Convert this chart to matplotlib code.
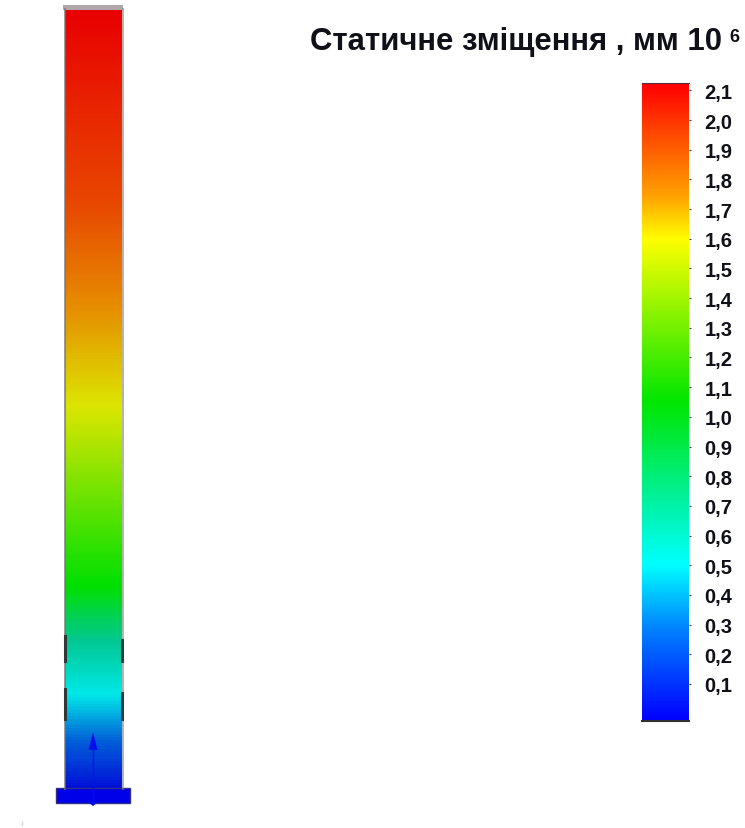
import matplotlib
matplotlib.use("Agg")
import matplotlib.pyplot as plt
import numpy as np
from matplotlib.colors import LinearSegmentedColormap
from matplotlib.patches import Rectangle

W, H = 745, 829

# legend values
tick_values = [2.1, 2.0, 1.9, 1.8, 1.7, 1.6, 1.5, 1.4, 1.3, 1.2, 1.1,
               1.0, 0.9, 0.8, 0.7, 0.6, 0.5, 0.4, 0.3, 0.2, 0.1]
tick_labels = ["2,1", "2,0", "1,9", "1,8", "1,7", "1,6", "1,5", "1,4", "1,3", "1,2", "1,1",
               "1,0", "0,9", "0,8", "0,7", "0,6", "0,5", "0,4", "0,3", "0,2", "0,1"]
scale_min = -0.025
scale_max = 2.125

# colour scale, value -> colour
scale_stops = [-0.025, 0.28, 0.5, 0.75, 1.05, 1.6, 1.75, 2.125]
scale_colors = ["#0000ff", "#0080ff", "#00ffff", "#00f090", "#00e600", "#ffff00", "#ffa000", "#ff0000"]

# displacement along the column, from the fixed foot to the top
column_stops = [0.0, 0.06, 0.12, 0.19, 0.26, 0.49, 0.62, 0.75, 1.0]
column_colors = ["#0010d8", "#0060d8", "#00e8e8", "#00c890", "#00e000", "#dce600",
                 "#e68c00", "#e84800", "#e80000"]


def px_axes(fig, x0, y0, x1, y1):
    return fig.add_axes([x0 / W, 1 - y1 / H, (x1 - x0) / W, (y1 - y0) / H])


fig = plt.figure(figsize=(W / 100, H / 100), dpi=100)
plt.rcParams["font.family"] = ["Liberation Sans", "DejaVu Sans"]

# column
col_cmap = LinearSegmentedColormap.from_list("col", list(zip(column_stops, column_colors)))
col_ax = px_axes(fig, 65, 10, 122, 790)
col_ax.imshow(np.linspace(1, 0, 256).reshape(-1, 1), cmap=col_cmap, aspect="auto")
col_ax.axis("off")

# overlay in pixel coordinates
ax = px_axes(fig, 0, 0, W, H)
ax.set_xlim(0, W)
ax.set_ylim(H, 0)
ax.axis("off")
ax.patch.set_alpha(0)

ax.add_patch(Rectangle((63, 6), 60, 5, color="#b0a8a8", lw=0))
ax.plot([64.5, 64.5], [10, 790], color="#707070", lw=1.4, alpha=0.7)
ax.plot([122.5, 122.5], [10, 790], color="#808080", lw=1.4, alpha=0.6)

# dark marks where the sections join
for y0, y1 in [(637, 662), (690, 720)]:
    ax.plot([64.5, 64.5], [y0, y1], color="#303838", lw=2.2)
    ax.plot([121.5, 121.5], [y0 + 4, y1], color="#303838", lw=2.2)

# foot and load arrow
ax.add_patch(Rectangle((56, 789), 74, 15, facecolor="#0000e8", edgecolor="#30308a", lw=1))
ax.plot([93, 93], [745, 800], color="#0010f0", lw=1)
ax.fill([88.5, 93, 97.5], [751, 733, 751], color="#0010e8", lw=0)
ax.fill([88, 93, 98], [803, 807, 803], color="#0010e8", lw=0)
ax.plot([22, 22], [822, 826], color="#d8d8d8", lw=1)

# title
ax.text(310, 50, "Статичне зміщення , мм 10", fontsize=22.4, fontweight="bold",
        va="baseline", ha="left", color="#101018")
ax.text(729, 42, "6", fontsize=13, fontweight="bold", va="baseline", ha="left", color="#101018")

# colour scale
norm_stops = [(v - scale_min) / (scale_max - scale_min) for v in scale_stops]
cmap = LinearSegmentedColormap.from_list("scale", list(zip(norm_stops, scale_colors)))
cb = px_axes(fig, 642, 84, 689, 722)
cb.imshow(np.linspace(scale_max, scale_min, 512).reshape(-1, 1), cmap=cmap, aspect="auto",
          extent=[0, 1, scale_min, scale_max], vmin=scale_min, vmax=scale_max)
cb.set_xticks([])
cb.yaxis.tick_right()
cb.set_yticks(tick_values)
cb.set_yticklabels(tick_labels, fontsize=14.5, fontweight="bold", color="#101018")
cb.tick_params(axis="y", length=1.5, width=0.8, pad=9.5, color="#404040")
for side in ["left", "right"]:
    cb.spines[side].set_visible(False)
cb.spines["top"].set_color("#503030")
cb.spines["bottom"].set_color("#303030")
cb.spines["bottom"].set_linewidth(1.5)

fig.savefig("out.png", dpi=100)
